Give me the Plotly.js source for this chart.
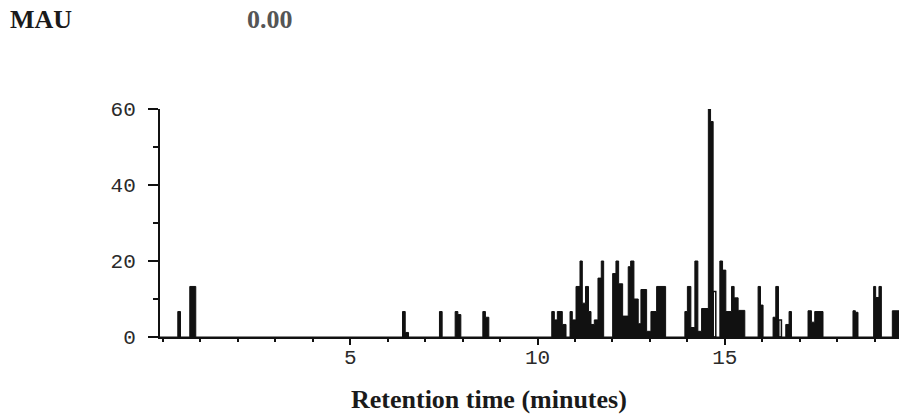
<!DOCTYPE html>
<html>
<head>
<meta charset="utf-8">
<script src="https://cdn.plot.ly/plotly-3.0.1.min.js"></script>
<style>html,body{margin:0;padding:0;background:#fff;}#chart{width:901px;height:418px;}</style>
</head>
<body>
<div id="chart"></div>
<script>
// Step start times (minutes) and absorbance (mAU) held until the next start
const retentionTimes = [
  -0.08,
  0.395, 0.467, 0.715, 0.875,
  6.395, 6.467, 6.555,
  7.381, 7.453,
  7.80, 7.872, 7.952,
  8.539, 8.608, 8.699,
  10.379, 10.448, 10.528, 10.661, 10.760,
  10.867, 10.928, 11.027, 11.133, 11.195, 11.28, 11.36, 11.427, 11.515, 11.613, 11.701, 11.765,
  12.005, 12.093, 12.165, 12.272, 12.421, 12.485, 12.573, 12.688, 12.76, 12.912, 13.027, 13.179, 13.419,
  13.933, 14.0, 14.093, 14.2, 14.28, 14.379, 14.56, 14.619, 14.688,
  14.867, 14.939, 15.027, 15.179, 15.248, 15.355, 15.533,
  15.888, 15.952, 16.021,
  16.288, 16.36, 16.432,
  16.627, 16.715, 16.779,
  17.221, 17.312, 17.40, 17.621,
  18.421, 18.485, 18.555,
  18.973, 19.027, 19.115, 19.179,
  19.472, 19.65
];
const absorbance = [
  0,
  6.7, 0, 13.3, 0,
  6.7, 1.2, 0,
  6.7, 0,
  6.7, 5.9, 0,
  6.7, 5.2, 0,
  6.7, 4.5, 6.7, 3.3, 0,
  6.7, 4.5, 13.3, 20, 8.9, 13.3, 6.7, 3.3, 4.5, 15.5, 20, 0,
  16.7, 20, 14, 5.5, 18.5, 20, 10, 3.5, 12.5, 1.5, 6.7, 13.3, 0,
  6.7, 13.3, 2.5, 20, 1.5, 7.5, 60, 56.7, 0,
  20, 17.6, 6.7, 13.3, 10.3, 7, 0,
  13.3, 8.4, 0,
  5.2, 13.3, 0,
  3.3, 6.7, 0,
  6.9, 3.9, 6.7, 0,
  6.9, 6.5, 0,
  13.3, 10.4, 13.3, 0,
  6.9, 6.9
];
// Outlined (unfilled) bins
const hollowTimes = [14.724, 16.476];
const hollowValues = [12, 4.5];

const xTickVals = [5, 10, 15];
const xTickText = ['5', '10', '15'];
const yTickVals = [0, 20, 40, 60];
const yTickText = ['0', '20', '40', '60'];

const traces = [
  {
    type: 'scatter', mode: 'lines',
    x: retentionTimes, y: absorbance,
    line: {shape: 'hv', color: '#111', width: 1},
    fill: 'tozeroy', fillcolor: '#111',
    hoverinfo: 'x+y', showlegend: false
  },
  {
    type: 'bar',
    x: hollowTimes, y: hollowValues,
    width: 0.07,
    marker: {color: '#ffffff', line: {color: '#111', width: 1.5}},
    showlegend: false
  }
];

const tickFont = {family: 'Liberation Mono, DejaVu Sans Mono, monospace', size: 21, color: '#2a2a2a'};

const layout = {
  width: 901, height: 418,
  margin: {l: 160, r: 2, t: 109, b: 81},
  paper_bgcolor: '#ffffff', plot_bgcolor: '#ffffff',
  showlegend: false,
  bargap: 0,
  xaxis: {
    range: [-0.08, 19.65],
    tickvals: xTickVals, ticktext: xTickText,
    ticks: 'outside', ticklen: 6, tickwidth: 2, tickcolor: '#111',
    minor: {dtick: 1, tick0: 0, ticks: 'outside', ticklen: 3, tickwidth: 2, tickcolor: '#111', showgrid: false},
    showline: true, linecolor: '#111', linewidth: 2,
    showgrid: false, zeroline: false,
    tickfont: tickFont, ticklabelstandoff: -6
  },
  yaxis: {
    range: [0, 60],
    tickvals: yTickVals, ticktext: yTickText,
    ticks: 'outside', ticklen: 10, tickwidth: 1.5, tickcolor: '#111',
    minor: {dtick: 10, tick0: 0, ticks: 'outside', ticklen: 5, tickwidth: 1.5, tickcolor: '#111', showgrid: false},
    showline: true, linecolor: '#111', linewidth: 2,
    showgrid: false, zeroline: false,
    tickfont: tickFont, ticklabelstandoff: 8
  },
  annotations: [
    {xref: 'paper', yref: 'paper', x: -0.2057, y: 1.3947, xanchor: 'left', yanchor: 'middle',
     text: 'MAU', showarrow: false,
     font: {family: 'Liberation Serif, Times New Roman, serif', size: 26, weight: 700, color: '#1a1a1a'}},
    {xref: 'paper', yref: 'paper', x: 0.115, y: 1.3947, xanchor: 'left', yanchor: 'middle',
     text: '0.00', showarrow: false,
     font: {family: 'Liberation Serif, Times New Roman, serif', size: 26, weight: 700, color: '#555'}},
    {xref: 'paper', yref: 'paper', x: 0.4452, y: -0.2763, xanchor: 'center', yanchor: 'middle',
     text: 'Retention time (minutes)', showarrow: false,
     font: {family: 'Liberation Serif, Times New Roman, serif', size: 26, weight: 700, color: '#1a1a1a'}}
  ]
};

Plotly.newPlot('chart', traces, layout, {staticPlot: true, displayModeBar: false});
</script>
</body>
</html>
